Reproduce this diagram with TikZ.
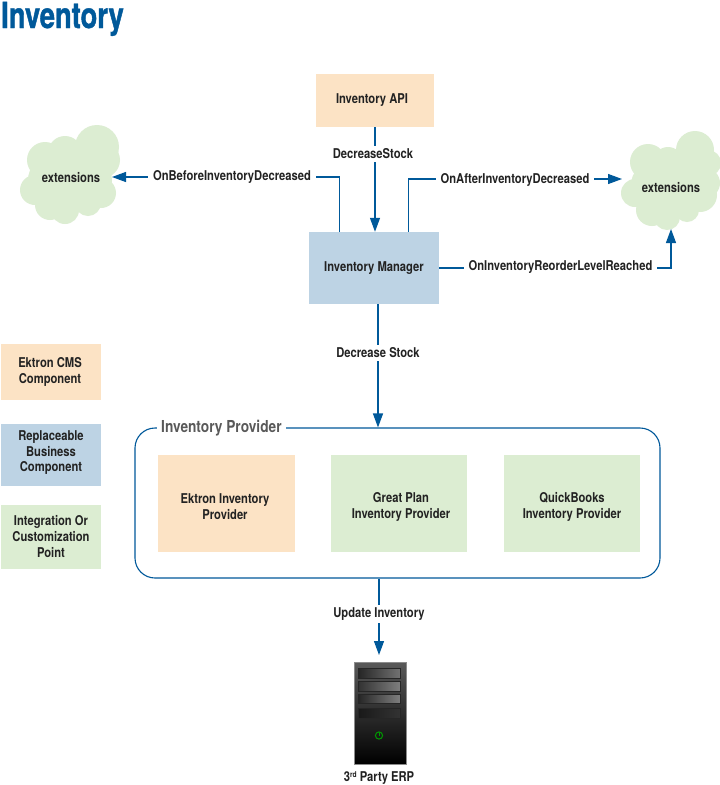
\documentclass[tikz,border=0pt]{standalone}
\usepackage{fontspec}
\setmainfont{TeX Gyre Heros}[FakeStretch=0.83]
\newfontfamily\titlefont{TeX Gyre Heros}[FakeStretch=0.76,FakeBold=1.2]
\usetikzlibrary{arrows.meta}
\definecolor{peach}{HTML}{FCE3C5}
\definecolor{bluebox}{HTML}{BDD3E4}
\definecolor{greenbox}{HTML}{DCEDD2}
\definecolor{linkblue}{HTML}{00599A}
\definecolor{txt}{HTML}{222222}
\tikzset{
  base/.style={font=\fontsize{13.5}{16}\selectfont\bfseries,text=txt,align=center,inner sep=0pt},
  peachbox/.style={fill=peach,rectangle,inner sep=0pt},
  bluesq/.style={fill=bluebox,rectangle,inner sep=0pt},
  greensq/.style={fill=greenbox,rectangle,inner sep=0pt},
  lbl/.style={base,fill=white,inner xsep=5pt,inner ysep=3pt},
  conn/.style={draw=linkblue,line width=1.2pt},
  arr/.style={conn,-{Triangle[length=14pt,width=10pt]}},
  cloudfill/.style={fill=greenbox},
}
\begin{document}
\begin{tikzpicture}[x=1pt,y=-1pt]
\useasboundingbox (0,0) rectangle (720,785);
\fill[white] (0,0) rectangle (720,785);
% title
\node[anchor=base west,inner sep=0pt,text=linkblue,font=\fontsize{36}{38}\titlefont\bfseries] (title) at (1,28) {Inventory};
% left cloud
\foreach \x/\y/\r in {97/147/22,45/160/18,65/153/17,35/190/15,50/205/15,65/210/14,88/203/13,101/193/15,102/160/18,70/180/28,88/180/24,52/180/24}
  \fill[cloudfill] (\x,\y) circle[radius=\r];
% right cloud
\begin{scope}
\clip (0,0) rectangle (720,785);
\foreach \x/\y/\r in {695/150/19,648/162/18,668/162/15,635/193/14,652/210/16,667/217/13,687/210/12,700/195/17,708/163/13,705/183/15,675/185/28,655/185/24}
  \fill[cloudfill] (\x,\y) circle[radius=\r];
\end{scope}
\node[base] (extL) at (71,178) {extensions};
\node[base] (extR) at (671,188) {extensions};
\coordinate (extLport) at (112,177);
\coordinate (extRport) at (622,179);
\coordinate (extRbot) at (671,229);
% boxes
\node[peachbox,minimum width=118pt,minimum height=53pt] (api) at (375,100.5) {};
\node[base] (apit) at (372,100) {Inventory API};
\node[bluesq,minimum width=130pt,minimum height=72pt] (mgr) at (374,268) {};
\node[base] (mgrt) at (374,268) {Inventory Manager};
\node[peachbox,minimum width=100pt,minimum height=56pt] (leg1) at (51,372) {};
\node[base] (leg1t) at (50,372) {Ektron CMS\\Component};
\node[bluesq,minimum width=100pt,minimum height=62pt] (leg2) at (51,455) {};
\node[base] (leg2t) at (51,453) {Replaceable\\[-.5pt]Business\\[-.5pt]Component};
\node[greensq,minimum width=100pt,minimum height=64pt] (leg3) at (51,537) {};
\node[base] (leg3t) at (51,537) {Integration Or\\Customization\\Point};
% container
\node[draw=linkblue,line width=1.1pt,rounded corners=20pt,minimum width=525pt,minimum height=150pt,inner sep=0pt] (prov) at (397.5,503) {};
\node[anchor=west,fill=white,inner xsep=4pt,inner ysep=2pt,text=black!65,font=\fontsize{16.5}{18}\selectfont\bfseries] (provlbl) at (157,428) {Inventory Provider};
\node[peachbox,minimum width=137pt,minimum height=97pt] (p1) at (226.5,503.5) {};
\node[greensq,minimum width=136pt,minimum height=97pt] (p2) at (399,503.5) {};
\node[greensq,minimum width=136pt,minimum height=97pt] (p3) at (572,503.5) {};
\node[base] (p1t) at (225,507) {Ektron Inventory\\Provider};
\node[base] (p2t) at (401,507) {Great Plan\\Inventory Provider};
\node[base] (p3t) at (572,507) {QuickBooks\\Inventory Provider};
% server
\shade[top color=black!65,bottom color=black] (354,662) rectangle (406,764) ;
\draw[black!45,line width=.5pt] (354,662) rectangle (406,764);
\foreach \a/\b/\t/\u in {668/678/55/85,681/691/50/80,694/703/50/85,708/718/80/90}
  \shade[left color=black!\u,right color=black!\t,draw=black!85,line width=.8pt] (358.5,\a) rectangle (400.5,\b);
\draw[green!60!black,line width=1pt] (379,735.5) circle[radius=3.6];
\draw[green!60!black,line width=.8pt] (379,732) -- (379,735.5);
\coordinate (srv) at (379,655);
\node[base,anchor=base] (srvlbl) at (379,781) {3{\fontsize{8}{8}\selectfont\raisebox{3.5pt}{rd}} Party ERP};
% connectors
\draw[arr] (api.south) -- (api.south |- mgr.north);
\draw[arr] ([xshift=31pt]mgr.north west) |- (extLport);
\draw[arr] ([xshift=-31pt]mgr.north east) |- (extRport);
\draw[arr] (mgr.east) -| (extRbot);
\draw[arr] (mgr.south -| 378,0) -- (prov.north -| 378,0);
\draw[arr] (prov.south -| srv) -- (srv);
% connector labels
\node[lbl] (l1) at (373,154) {DecreaseStock};
\node[lbl] (l2) at (232,177) {OnBeforeInventoryDecreased};
\node[lbl] (l3) at (515,180) {OnAfterInventoryDecreased};
\node[lbl] (l4) at (560.5,267) {OnInventoryReorderLevelReached};
\node[lbl] (l5) at (378,353) {Decrease Stock};
\node[lbl] (l6) at (379,614) {Update Inventory};
\end{tikzpicture}
\end{document}
